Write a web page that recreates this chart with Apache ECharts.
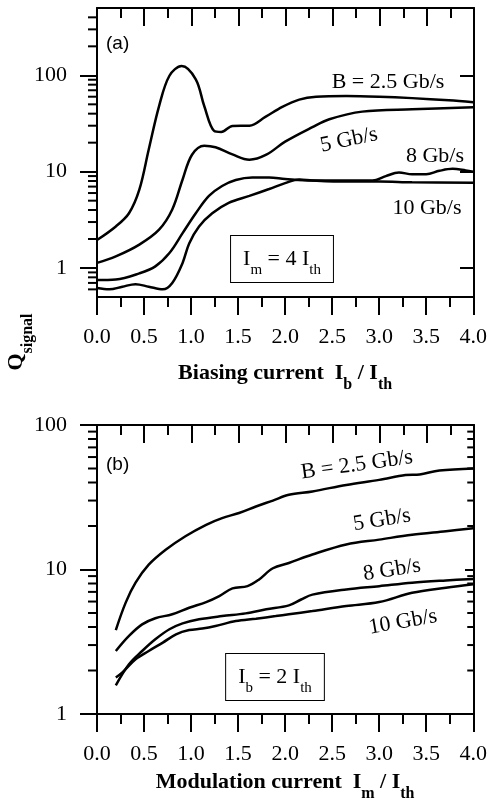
<!DOCTYPE html>
<html>
<head>
<meta charset="utf-8">
<script src="https://cdn.jsdelivr.net/npm/echarts@6/dist/echarts.min.js"></script>
<style>
  html, body { margin: 0; padding: 0; background: #fff; }
  #chart { width: 490px; height: 806px; }
</style>
</head>
<body>
<div id="chart"></div>
<script>
// ---- Panel (a): Q_signal vs biasing current Ib/Ith (Im = 4 Ith) ----
const biasB25 = [[0,1.95],[0.2,2.7],[0.34,3.7],[0.45,6.5],[0.55,17],[0.66,48],[0.77,99],[0.9,125],[1.05,91],[1.14,48],[1.245,26.5],[1.32,25.8],[1.44,29.8],[1.62,30],[1.79,37],[1.97,47],[2.15,56],[2.33,60],[2.65,61],[3.0,60],[3.35,58],[3.74,55],[4.0,52.5]];
const bias5 = [[0,1.13],[0.2,1.32],[0.45,1.75],[0.66,2.5],[0.8,4.05],[0.91,8.3],[1.01,15],[1.14,18.6],[1.26,17.9],[1.44,15.1],[1.62,13.3],[1.8,15],[2.0,20.5],[2.29,29],[2.47,35],[2.82,42],[3.35,44.5],[4.0,46.6]];
const bias8 = [[0,0.75],[0.2,0.76],[0.45,0.88],[0.62,1.04],[0.77,1.43],[0.91,2.3],[1.05,3.7],[1.19,5.6],[1.33,7.1],[1.475,8.2],[1.65,8.7],[1.83,8.7],[2.0,8.4],[2.29,8.1],[2.65,8.1],[2.93,8.1],[3.07,9.0],[3.21,9.8],[3.35,9.4],[3.5,9.4],[3.64,10.2],[3.78,10.7],[3.92,10.3],[4.0,10.0]];
const bias10 = [[0,0.62],[0.13,0.6],[0.27,0.64],[0.41,0.68],[0.55,0.64],[0.7,0.6],[0.8,0.7],[0.91,1.13],[0.98,1.8],[1.085,2.7],[1.225,3.7],[1.4,4.75],[1.62,5.6],[1.83,6.6],[2.0,7.6],[2.15,8.3],[2.29,8.1],[2.65,7.9],[3.0,7.9],[3.35,7.75],[4.0,7.65]];

// ---- Panel (b): Q_signal vs modulation current Im/Ith (Ib = 2 Ith) ----
const modB25 = [[0.2,3.81],[0.305,5.9],[0.41,8.1],[0.55,10.8],[0.73,13.7],[0.94,17],[1.16,20.4],[1.33,22.7],[1.51,24.6],[1.69,27.3],[1.87,30],[2.04,32.9],[2.29,34.7],[2.65,38.5],[3.0,41.7],[3.28,45],[3.43,45.5],[3.64,48.4],[4.0,50]];
const mod5 = [[0.2,2.73],[0.34,3.47],[0.48,4.17],[0.62,4.6],[0.8,4.9],[0.98,5.44],[1.16,5.95],[1.3,6.55],[1.44,7.4],[1.6,7.67],[1.72,8.5],[1.87,10.2],[2.04,11.1],[2.29,12.7],[2.65,14.9],[3.0,16.1],[3.35,17.4],[3.71,18.4],[4.0,19.3]];
const mod8 = [[0.2,1.58],[0.34,2.21],[0.48,2.73],[0.62,3.29],[0.77,3.86],[0.91,4.24],[1.085,4.52],[1.33,4.76],[1.58,4.97],[1.8,5.3],[2.04,5.65],[2.17,6.2],[2.29,6.7],[2.65,7.28],[3.0,7.67],[3.35,8.1],[3.71,8.4],[4.0,8.6]];
const mod10 = [[0.2,1.79],[0.27,1.94],[0.41,2.39],[0.55,2.73],[0.7,3.12],[0.84,3.56],[0.98,3.81],[1.12,3.9],[1.26,4.06],[1.475,4.4],[1.69,4.57],[1.9,4.76],[2.04,4.9],[2.29,5.16],[2.65,5.58],[3.0,5.95],[3.35,6.9],[3.71,7.48],[4.0,7.9]];

// ---- Axis ticks ----
const decadeTicks = [1, 10, 100];
const minorTicksA = [0.6,0.7,0.8,0.9,2,3,4,5,6,7,8,9,20,30,40,50,60,70,80,90,200,300,400];
const minorTicksB = [2,3,4,5,6,7,8,9,20,30,40,50,60,70,80,90];
const rateLabels = ['B = 2.5 Gb/s', '5 Gb/s', '8 Gb/s', '10 Gb/s'];

const SERIF = 'Liberation Serif';
const INK = '#000';

const gridA = { left: 97, top: 8, width: 377, height: 289 };
const gridB = { left: 97, top: 425, width: 377, height: 289 };

const subRich = {
  t: { fontFamily: SERIF, fontWeight: 'bold', fontSize: 22, color: INK, lineHeight: 40, verticalAlign: 'middle' },
  s: { fontFamily: SERIF, fontWeight: 'bold', fontSize: 16, color: INK, lineHeight: 16, verticalAlign: 'bottom' }
};
const subRichPlain = {
  t: { fontFamily: SERIF, fontSize: 22, color: INK, lineHeight: 38, verticalAlign: 'middle' },
  s: { fontFamily: SERIF, fontSize: 15, color: INK, lineHeight: 15, verticalAlign: 'bottom' }
};

const frameLine = () => ({ show: true, onZero: false, lineStyle: { color: INK, width: 2 } });

function xBottom(gridIndex, name, gap) {
  return {
    type: 'value', gridIndex, position: 'bottom', min: 0, max: 4, interval: 0.5,
    axisLine: frameLine(),
    axisTick: { show: true, inside: false, length: 18, lineStyle: { color: INK, width: 2 } },
    minorTick: { show: true, splitNumber: 2, length: 10, lineStyle: { color: INK, width: 2 } },
    splitLine: { show: false },
    axisLabel: { margin: 29, fontFamily: SERIF, fontSize: 22, color: INK, formatter: v => v.toFixed(1) },
    name, nameLocation: 'middle', nameGap: gap,
    nameTextStyle: { rich: subRich }
  };
}
function xTop(gridIndex) {
  return {
    type: 'value', gridIndex, position: 'top', min: 0, max: 4, interval: 0.5,
    axisLine: frameLine(),
    axisTick: { show: true, inside: true, length: 18, lineStyle: { color: INK, width: 2 } },
    minorTick: { show: true, splitNumber: 2, length: 10, lineStyle: { color: INK, width: 2 } },
    splitLine: { show: false }, axisLabel: { show: false }
  };
}
function yLog(gridIndex, min, max, opts) {
  return Object.assign({
    type: 'log', logBase: 10, gridIndex, min, max,
    splitLine: { show: false }, minorTick: { show: false }
  }, opts);
}
function yLeftMajor(gridIndex, min, max) {
  return yLog(gridIndex, min, max, {
    position: 'left',
    axisLine: frameLine(),
    axisTick: { show: true, inside: false, length: 17, customValues: decadeTicks, lineStyle: { color: INK, width: 2 } },
    axisLabel: { show: true, margin: 30, customValues: decadeTicks, fontFamily: SERIF, fontSize: 22, color: INK, formatter: v => String(Math.round(v)) }
  });
}
function yRightMajor(gridIndex, min, max, len) {
  return yLog(gridIndex, min, max, {
    position: 'right',
    axisLine: frameLine(),
    axisTick: { show: true, inside: true, length: len, customValues: decadeTicks, lineStyle: { color: INK, width: 2 } },
    axisLabel: { show: false, customValues: decadeTicks }
  });
}

// Short tick strokes at the 2..9 subdivisions of each decade, placed on a
// frame edge (xEdge) through the panel's own log axis and pointing left.
function decadeSubTicks(name, values, xi, yi, xEdge, len) {
  return {
    type: 'custom', name, xAxisIndex: xi, yAxisIndex: yi,
    clip: false, silent: true, z: 6,
    encode: { x: 0, y: 1 },
    data: values.map(v => [xEdge, v]),
    renderItem: (params, api) => {
      const p = api.coord([api.value(0), api.value(1)]);
      return {
        type: 'line',
        shape: { x1: p[0], y1: p[1], x2: p[0] - len, y2: p[1] },
        style: { stroke: INK, lineWidth: 2, fill: null }
      };
    }
  };
}

function curve(name, data, xi, yi) {
  return {
    type: 'line', name, data, xAxisIndex: xi, yAxisIndex: yi,
    showSymbol: false, symbol: 'none', smooth: 0.35,
    lineStyle: { color: INK, width: 2.5 }, z: 5
  };
}

function label(text, x, y, deg, extra) {
  return {
    type: 'text', x, y, rotation: (deg || 0) * Math.PI / 180, z: 10,
    style: Object.assign({ text, fill: INK, font: '22px "' + SERIF + '"', align: 'center', verticalAlign: 'middle' }, extra || {})
  };
}
function boxLabel(main1, sub1, main2, sub2, x, y) {
  return {
    type: 'text', x, y, z: 10,
    style: {
      text: '{t|' + main1 + '}{s|' + sub1 + '}{t|' + main2 + '}{s|' + sub2 + '}',
      rich: subRichPlain, align: 'center', verticalAlign: 'middle',
      borderColor: INK, borderWidth: 1, padding: [4, 12, 4, 12], backgroundColor: '#fff'
    }
  };
}

const option = {
  backgroundColor: '#fff',
  animation: false,
  grid: [
    Object.assign({}, gridA), Object.assign({}, gridA),
    Object.assign({}, gridB), Object.assign({}, gridB)
  ],
  xAxis: [
    xBottom(0, '{t|Biasing current  I}{s|b}{t| / I}{s|th}', 56),
    xTop(1),
    xBottom(2, '{t|Modulation current  I}{s|m}{t| / I}{s|th}', 48),
    xTop(3)
  ],
  yAxis: [
    yLeftMajor(0, 0.5, 500),
    yRightMajor(1, 0.5, 500, 14),
    yLeftMajor(2, 1, 100),
    yRightMajor(3, 1, 100, 9)
  ],
  series: [
    curve(rateLabels[0], biasB25, 0, 0),
    curve(rateLabels[1], bias5, 0, 0),
    curve(rateLabels[2], bias8, 0, 0),
    curve(rateLabels[3], bias10, 0, 0),
    curve(rateLabels[0], modB25, 2, 2),
    curve(rateLabels[1], mod5, 2, 2),
    curve(rateLabels[2], mod8, 2, 2),
    curve(rateLabels[3], mod10, 2, 2),
    decadeSubTicks('subA', minorTicksA, 0, 0, 0, 9),
    decadeSubTicks('subBL', minorTicksB, 2, 2, 0, 9),
    decadeSubTicks('subBR', minorTicksB, 2, 2, 4, 6)
  ],
  graphic: [
    // shared y-axis title
    {
      type: 'text', x: 16, y: 342, rotation: Math.PI / 2,
      style: { text: '{t|Q}{s|signal}', rich: subRich, align: 'center', verticalAlign: 'middle' }
    },
    // panel (a) annotations
    label('(a)', 106, 44, 0, { font: '19px "Liberation Sans"', align: 'left' }),
    label(rateLabels[0], 388, 82),
    label(rateLabels[1], 349, 140, 12),
    label(rateLabels[2], 435, 156),
    label(rateLabels[3], 427, 208),
    boxLabel('I', 'm', ' = 4 I', 'th', 282, 259),
    // panel (b) annotations
    label('(b)', 106, 465, 0, { font: '19px "Liberation Sans"', align: 'left' }),
    label(rateLabels[0], 357, 465, 8),
    label(rateLabels[1], 382, 520, 9),
    label(rateLabels[2], 392, 570, 9),
    label(rateLabels[3], 403, 622, 10),
    boxLabel('I', 'b', ' = 2 I', 'th', 275, 677)
  ]
};

const chart = echarts.init(document.getElementById('chart'), null, { renderer: 'canvas' });
chart.setOption(option);
</script>
</body>
</html>
